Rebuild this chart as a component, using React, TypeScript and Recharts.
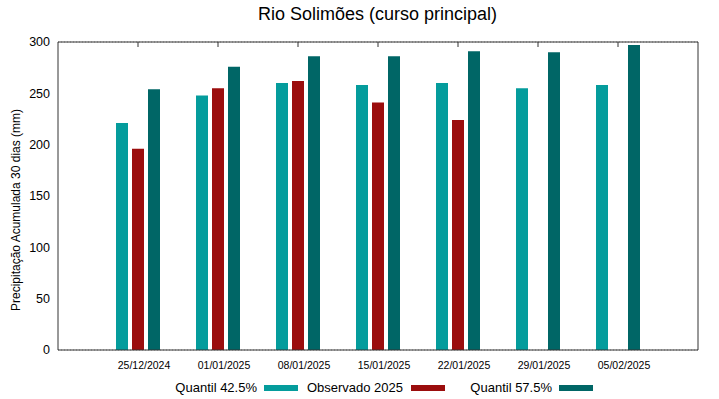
import React from "react";
import { BarChart, Bar, XAxis, YAxis, CartesianGrid } from "recharts";

const dates = ["25/12/2024", "01/01/2025", "08/01/2025", "15/01/2025", "22/01/2025", "29/01/2025", "05/02/2025"];
const quantil425 = [221, 248, 260, 258, 260, 255, 258];
const observado2025: (number | null)[] = [196, 255, 262, 241, 224, null, null];
const quantil575 = [254, 276, 286, 286, 291, 290, 297];
const yTicks = [0, 50, 100, 150, 200, 250, 300];

const COLORS = { q1: "#049c9c", obs: "#9b0d0d", q2: "#006666" };
const FONT = "'Liberation Sans', Arial, sans-serif";

const data = dates.map((d, i) => ({
  date: d,
  q1: quantil425[i],
  obs: observado2025[i],
  q2: quantil575[i],
}));

const legendItems = [
  { label: "Quantil 42.5%", color: COLORS.q1, textRight: 257, sampleLeft: 264 },
  { label: "Observado 2025", color: COLORS.obs, textRight: 403, sampleLeft: 411 },
  { label: "Quantil 57.5%", color: COLORS.q2, textRight: 552, sampleLeft: 559 },
];

export default function App() {
  return (
    <div style={{ position: "absolute", left: 0, top: 0, width: 719, height: 399, background: "#fff", fontFamily: FONT }}>
      <div style={{ position: "absolute", left: 0, width: 755, top: 4, textAlign: "center", fontSize: 18, color: "#000" }}>
        Rio Solimões (curso principal)
      </div>
      <BarChart
        width={719}
        height={399}
        data={data}
        margin={{ top: 42, right: 21, left: 0, bottom: 0 }}
        barSize={12}
        barGap={4}
      >
        <CartesianGrid vertical={false} stroke="#9a9a9a" strokeDasharray="1 2" />
        <XAxis
          dataKey="date"
          xAxisId="bottom"
          height={49}
          padding={{ left: 40, right: 40 }}
          tickLine={false}
          tickMargin={6}
          axisLine={{ stroke: "#333" }}
          tick={{ fontSize: 10.5, fill: "#000", fontFamily: FONT, dx: 6 }}
          interval={0}
        />
        <XAxis
          dataKey="date"
          xAxisId="top"
          orientation="top"
          mirror
          height={1}
          padding={{ left: 40, right: 40 }}
          tickSize={5}
          tickLine={{ stroke: "#333" }}
          axisLine={{ stroke: "#333" }}
          tickFormatter={() => ""}
          interval={0}
        />
        <YAxis
          yAxisId="left"
          width={58}
          domain={[0, 300]}
          ticks={yTicks}
          tickLine={false}
          axisLine={{ stroke: "#333" }}
          tick={{ fontSize: 12.5, fill: "#000", fontFamily: FONT }}
          label={{
            value: "Precipitação Acumulada 30 dias (mm)",
            angle: -90,
            position: "center",
            dx: -13,
            dy: 14,
            style: { fontSize: 12, fill: "#000", fontFamily: FONT },
          }}
        />
        <YAxis
          yAxisId="right"
          orientation="right"
          mirror
          width={1}
          domain={[0, 300]}
          ticks={yTicks}
          tickSize={5}
          tickLine={{ stroke: "#333" }}
          axisLine={{ stroke: "#333" }}
          tickFormatter={() => ""}
        />
        <Bar dataKey="q1" xAxisId="bottom" yAxisId="left" fill={COLORS.q1} isAnimationActive={false} />
        <Bar dataKey="obs" xAxisId="bottom" yAxisId="left" fill={COLORS.obs} isAnimationActive={false} />
        <Bar dataKey="q2" xAxisId="bottom" yAxisId="left" fill={COLORS.q2} isAnimationActive={false} />
      </BarChart>
      {legendItems.map((it) => (
        <React.Fragment key={it.label}>
          <div
            style={{
              position: "absolute",
              right: 719 - it.textRight,
              top: 380,
              fontSize: 13,
              color: "#000",
              whiteSpace: "nowrap",
              lineHeight: "15px",
            }}
          >
            {it.label}
          </div>
          <div
            style={{
              position: "absolute",
              left: it.sampleLeft,
              top: 385,
              width: 34,
              height: 6,
              background: it.color,
            }}
          />
        </React.Fragment>
      ))}
    </div>
  );
}
